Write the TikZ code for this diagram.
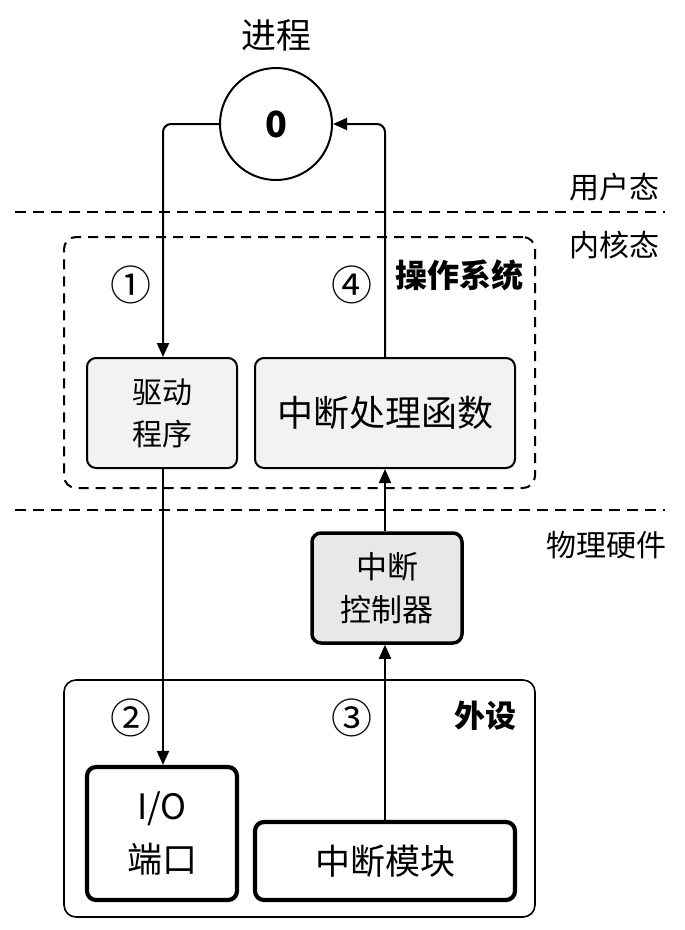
\documentclass[tikz,border=0pt]{standalone}
\usepackage{fontspec}
\setmainfont{Noto Sans CJK SC}
\usetikzlibrary{arrows.meta}
\tikzset{
  arr/.style={line width=2pt,-{Triangle[length=14pt,width=12pt]}},
  graybox/.style={draw,line width=2pt,rounded corners=9pt,fill=black!5,inner sep=0pt},
  ctrlbox/.style={draw,line width=3.5pt,rounded corners=9pt,fill=black!9,inner sep=0pt},
  whitebox/.style={draw,line width=4.2pt,rounded corners=9pt,fill=white,inner sep=0pt},
  divider/.style={line width=2.4pt,dash pattern=on 11pt off 7pt},
  lbl/.style={inner sep=0pt,font=\fontsize{30pt}{34pt}\selectfont},
  num/.style={inner sep=0pt,font=\fontsize{41pt}{44pt}\selectfont},
  boldlbl/.style={inner sep=0pt,font=\fontsize{31pt}{34pt}\selectfont\bfseries},
}
\begin{document}
\begin{tikzpicture}[x=1pt,y=-1pt]
\useasboundingbox (0,0) rectangle (685,930);
% layer dividers
\coordinate (d1a) at (15,212); \coordinate (d1b) at (665,212);
\coordinate (d2a) at (15,510); \coordinate (d2b) at (665,510);
\draw[divider] (d1a) -- (d1b);
\draw[divider] (d2a) -- (d2b);
\node[lbl,anchor=east] (user) at (660,187) {用户态};
\node[lbl,anchor=east] (kernel) at (660,245) {内核态};
\node[lbl,anchor=east] (hw) at (667,545) {物理硬件};
% process
\node[inner sep=0pt,font=\fontsize{35pt}{38pt}\selectfont] (title) at (276,35) {进程};
\node[draw,circle,line width=2pt,minimum size=112pt,inner sep=0pt,font=\fontsize{36pt}{38pt}\selectfont\bfseries] (proc) at (276,124) {0};
% OS container
\node[draw,line width=2pt,dash pattern=on 10pt off 7pt,rounded corners=12pt,minimum width=471pt,minimum height=251pt,inner sep=0pt] (os) at (299.5,362.5) {};
\node[boldlbl,anchor=east,font=\fontsize{32pt}{34pt}\selectfont\bfseries] (oslbl) at (524,275) {操作系统};
% peripherals container
\node[draw,line width=1.6pt,rounded corners=12pt,minimum width=471pt,minimum height=237pt,inner sep=0pt] (dev) at (299.5,798.5) {};
\node[boldlbl,anchor=east] (devlbl) at (517,716) {外设};
% boxes
\node[graybox,minimum width=150pt,minimum height=110pt,align=center,font=\fontsize{30pt}{42pt}\selectfont] (drv) at (162,413) {驱动\\程序};
\node[graybox,minimum width=260pt,minimum height=110pt,font=\fontsize{36pt}{40pt}\selectfont] (isr) at (385,413) {中断处理函数};
\node[ctrlbox,minimum width=150pt,minimum height=110pt,align=center,font=\fontsize{31pt}{43pt}\selectfont] (ctrl) at (387,588) {中断\\控制器};
\node[whitebox,minimum width=150pt,minimum height=133pt,align=center,font=\fontsize{35pt}{53pt}\selectfont] (io) at (162,833.5) {I/O\\端口};
\node[whitebox,minimum width=260pt,minimum height=78pt,font=\fontsize{35pt}{40pt}\selectfont] (imod) at (385,861) {中断模块};
% numbers
\node[num] (n1) at (131,285) {①};
\node[num] (n4) at (352,285) {④};
\node[num] (n2) at (131,718) {②};
\node[num] (n3) at (352,718) {③};
% connectors
\coordinate (lc) at (163,124);
\coordinate (rc) at (385,124);
\draw[arr,rounded corners=8pt] (proc.west) -- (lc) -- (drv.north -| lc);
\draw[arr,rounded corners=8pt] (isr.north) -- (rc) -- (proc.east);
\draw[arr] (drv.south -| lc) -- (io.north -| lc);
\draw[arr] (ctrl.north -| rc) -- (isr.south -| rc);
\draw[arr] (imod.north -| rc) -- (ctrl.south -| rc);
\end{tikzpicture}
\end{document}
